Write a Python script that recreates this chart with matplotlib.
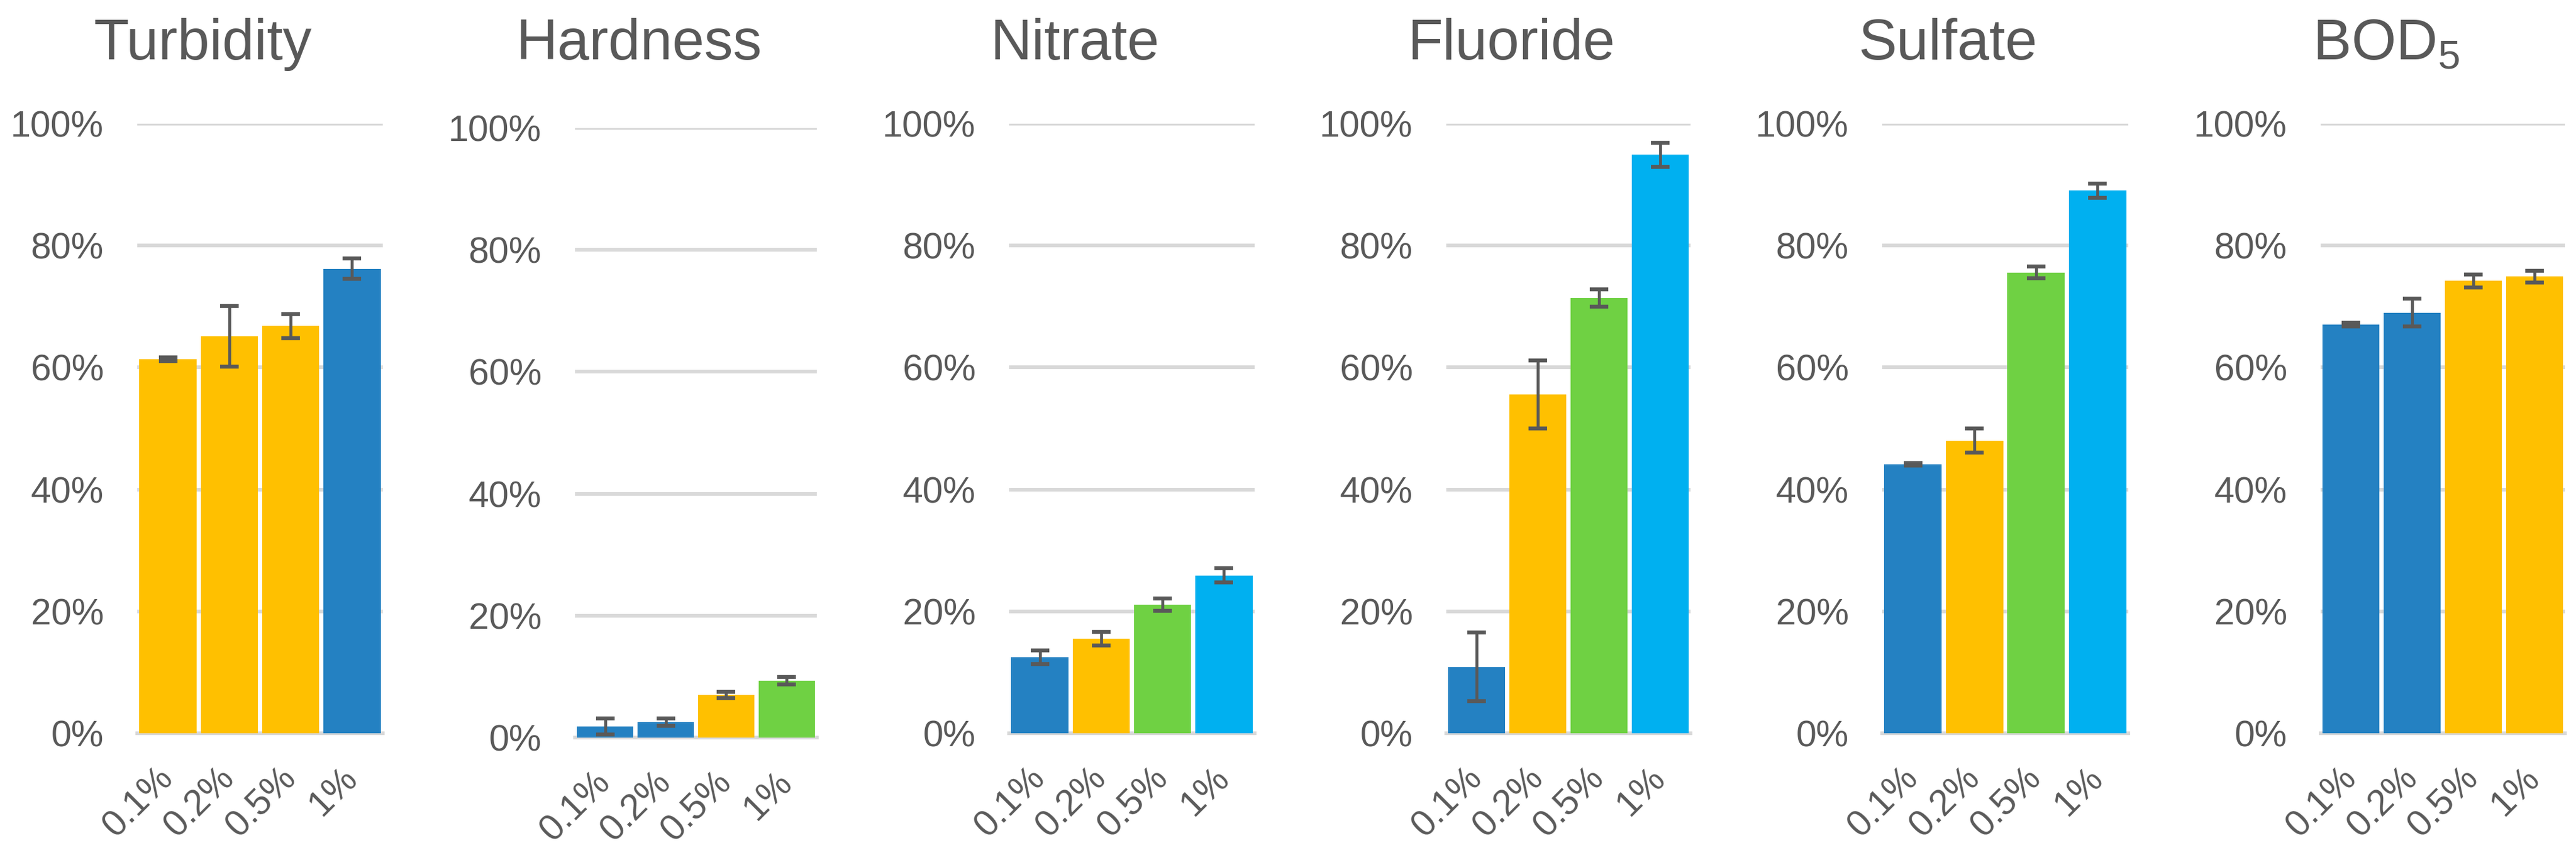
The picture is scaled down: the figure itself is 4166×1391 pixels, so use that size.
import matplotlib
matplotlib.use("Agg")
import matplotlib.pyplot as plt
import numpy as np

plt.rcParams['font.family'] = ['Liberation Sans', 'DejaVu Sans']
plt.rcParams['mathtext.fontset'] = 'custom'
plt.rcParams['mathtext.rm'] = 'Liberation Sans'

# ---- data ----
categories = ["0.1%", "0.2%", "0.5%", "1%"]
titles = ["Turbidity", "Hardness", "Nitrate", "Fluoride", "Sulfate", r"BOD$_\mathregular{5}$"]

turbidity = [61.4, 65.1, 66.8, 76.2]
turbidity_err = [0.3, 5.0, 2.0, 1.7]
hardness = [1.8, 2.5, 7.0, 9.3]
hardness_err = [1.3, 0.6, 0.5, 0.6]
nitrate = [12.5, 15.5, 21.1, 25.9]
nitrate_err = [1.1, 1.1, 1.0, 1.2]
fluoride = [10.9, 55.6, 71.4, 94.9]
fluoride_err = [5.6, 5.6, 1.4, 2.0]
sulfate = [44.1, 48.0, 75.6, 89.0]
sulfate_err = [0.2, 2.0, 1.0, 1.2]
bod5 = [67.0, 69.0, 74.2, 74.9]
bod5_err = [0.3, 2.3, 1.1, 1.0]

values = [turbidity, hardness, nitrate, fluoride, sulfate, bod5]
errors = [turbidity_err, hardness_err, nitrate_err, fluoride_err, sulfate_err, bod5_err]

# colour group per bar
BLUE, YELLOW, GREEN, LIGHT = "#2481C2", "#FFC000", "#6FD143", "#00B0F0"
bar_colors = [
    [YELLOW, YELLOW, YELLOW, BLUE],
    [BLUE, BLUE, YELLOW, GREEN],
    [BLUE, YELLOW, GREEN, LIGHT],
    [BLUE, YELLOW, GREEN, LIGHT],
    [BLUE, YELLOW, GREEN, LIGHT],
    [BLUE, BLUE, YELLOW, YELLOW],
]

# ---- layout (pixels) ----
W, H = 4166, 1391
lefts = [222, 930, 1632, 2339, 3044, 3753]
rights = [619, 1321, 2029, 2734, 3442, 4148]
tops = [200, 207, 200, 200, 200, 200]
ah = 986
title_baseline = 96

TXT = "#595959"
GRID = "#D9D9D9"

fig = plt.figure(figsize=(W / 100, H / 100), dpi=100)

for i in range(6):
    aw = rights[i] - lefts[i]
    ax = fig.add_axes([lefts[i] / W, 1 - (tops[i] + ah) / H, aw / W, ah / H])
    x = np.arange(len(categories))
    ax.bar(x, values[i], width=0.933, color=bar_colors[i], zorder=3)
    ax.errorbar(x, values[i], yerr=errors[i], fmt='none', ecolor=TXT,
                elinewidth=3.4, capsize=10.5, capthick=4.6, zorder=4)
    ax.set_xlim(-0.5, 3.5)
    ax.set_ylim(0, 100)
    ax.set_yticks([0, 20, 40, 60, 80, 100])
    ax.set_yticklabels([f"{v}%" for v in [0, 20, 40, 60, 80, 100]])
    ax.yaxis.grid(True, color=GRID, linewidth=4.3, zorder=0)
    ax.set_axisbelow(True)
    for s in ['top', 'right', 'left']:
        ax.spines[s].set_visible(False)
    ax.spines['bottom'].set_color(GRID)
    ax.spines['bottom'].set_linewidth(4.3)
    ax.tick_params(axis='both', length=0, colors=TXT, labelsize=42.5)
    ax.tick_params(axis='y', pad=39)
    ax.set_xticks(x)
    ax.set_xticklabels(categories, rotation=45, ha='right', va='center',
                       rotation_mode='anchor')
    ax.tick_params(axis='x', pad=46)
    cx = ((lefts[i] + rights[i]) / 2 - 92) / W
    fig.text(cx, 1 - title_baseline / H, titles[i],
             ha='center', va='baseline', fontsize=67, color=TXT)

fig.savefig("out.png", dpi=100, facecolor="white")
